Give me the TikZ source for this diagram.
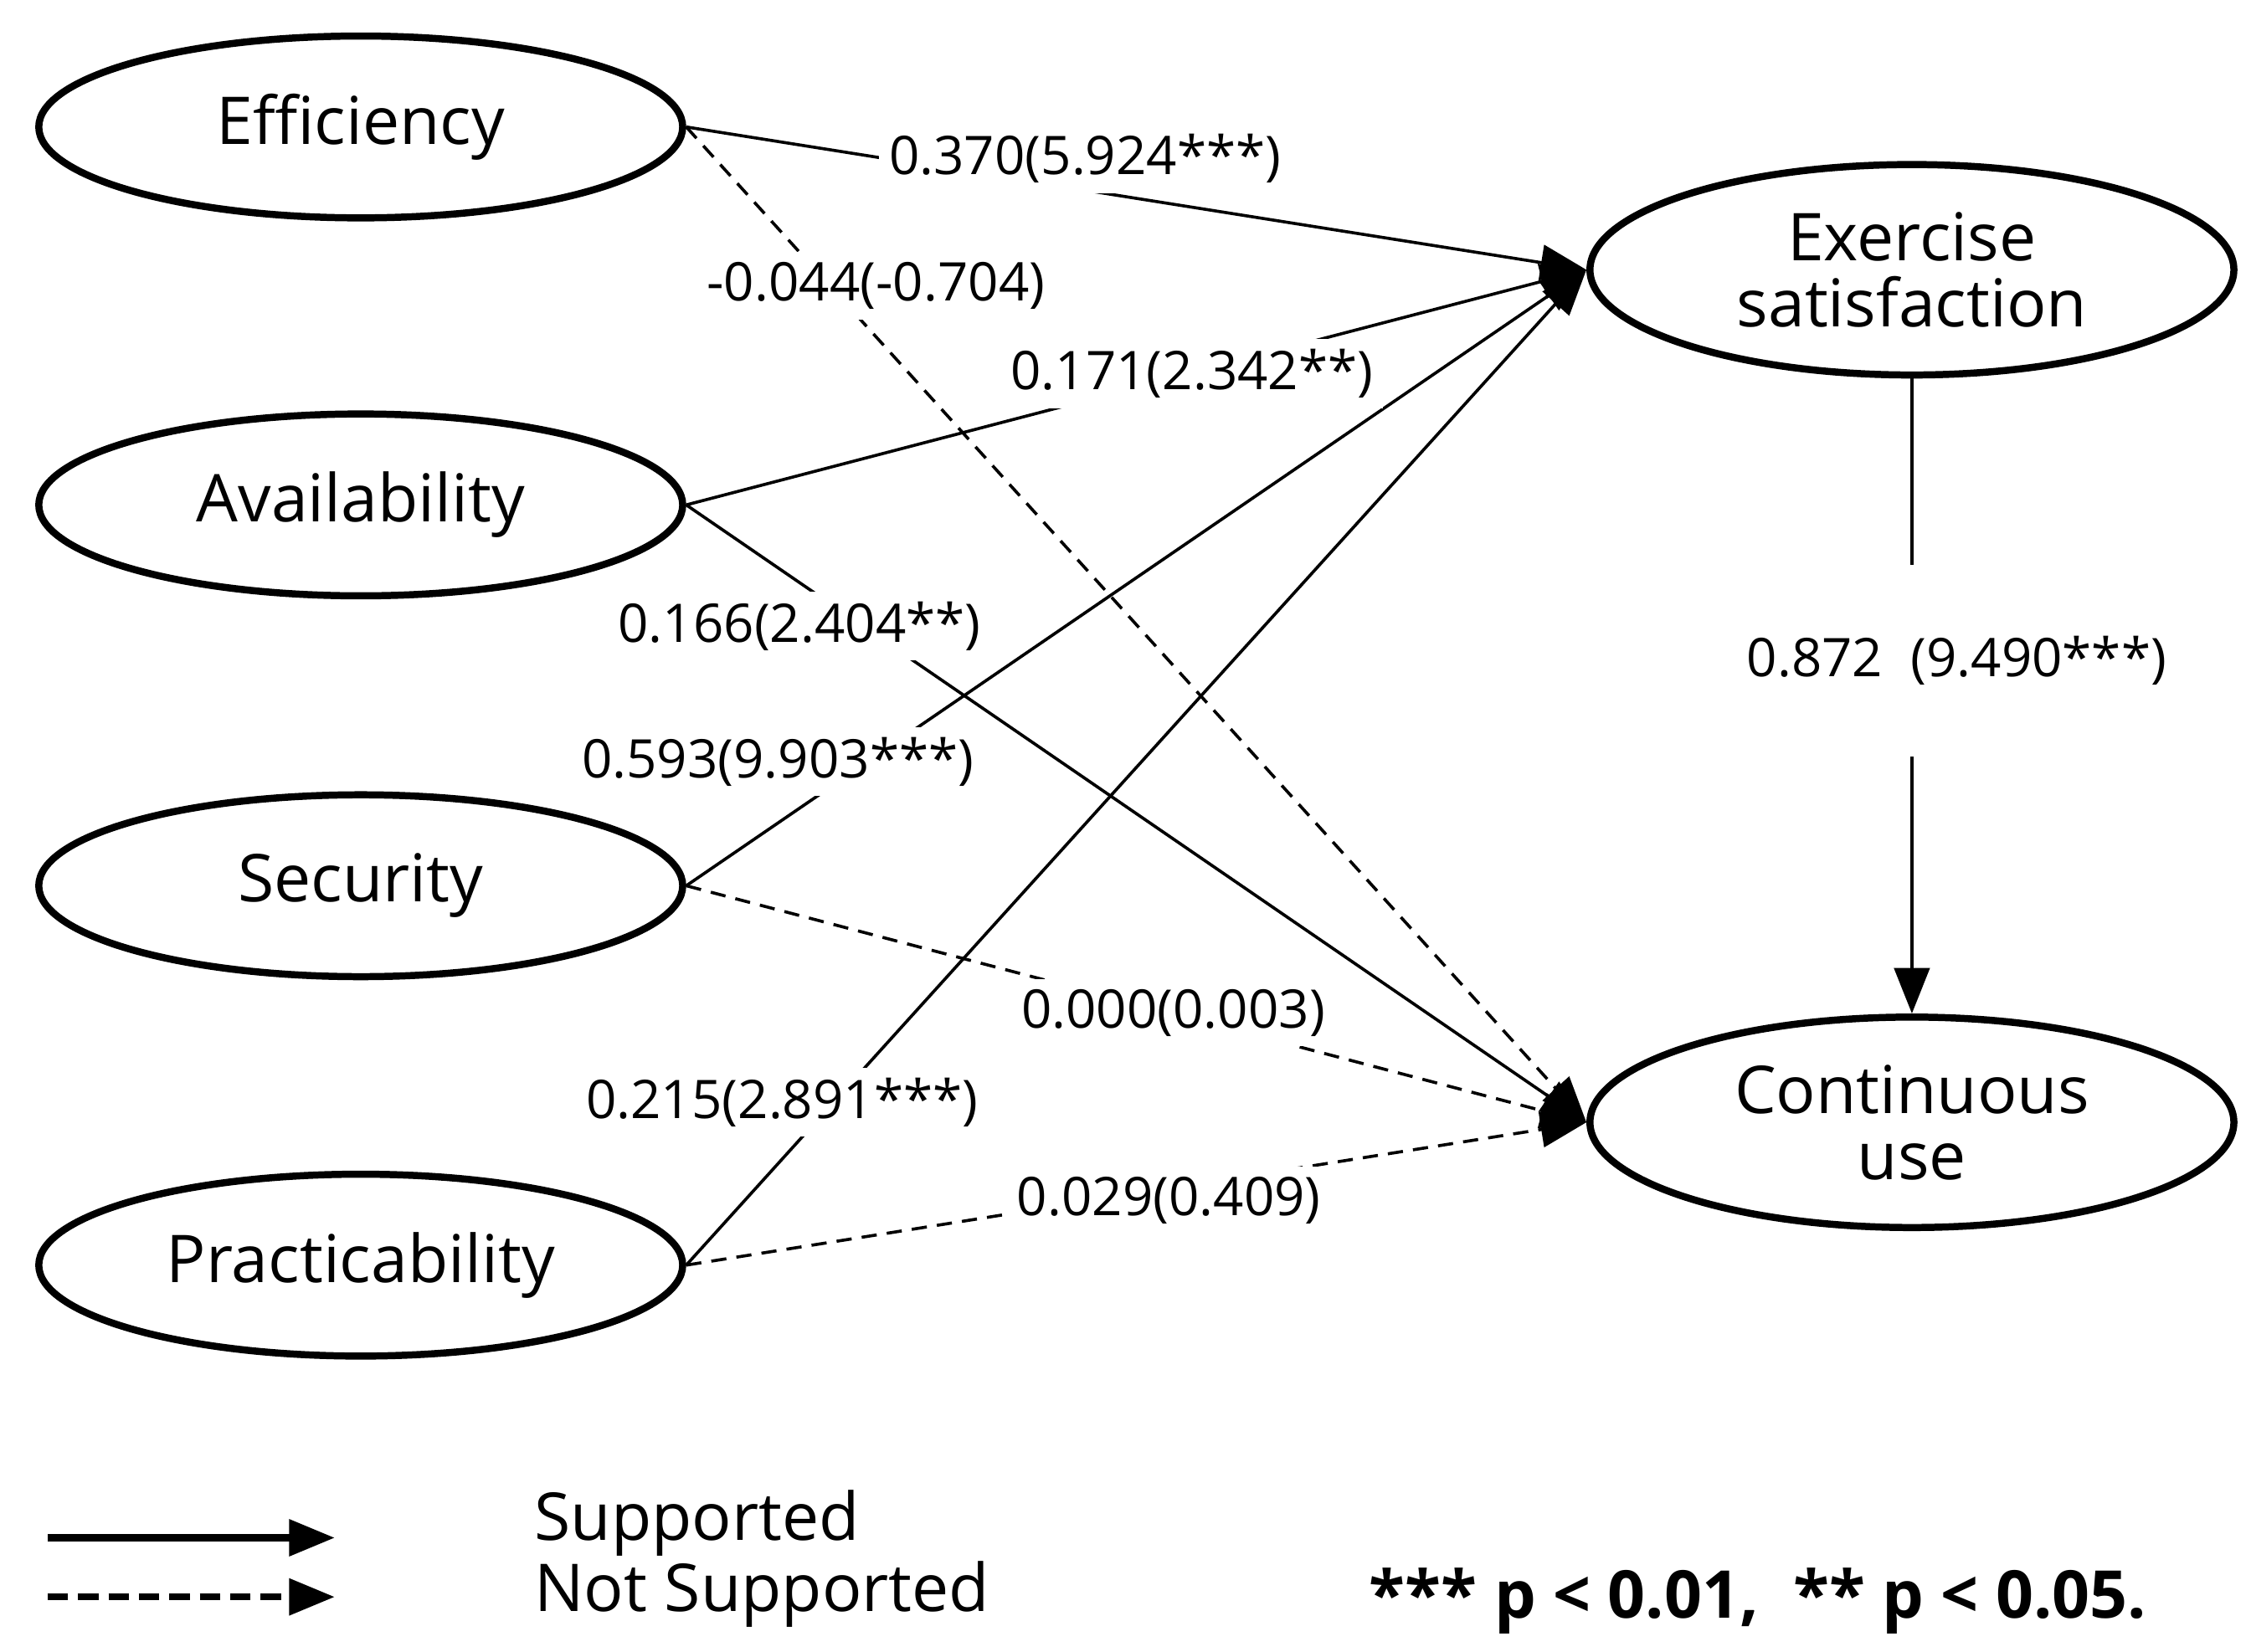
\documentclass[tikz,border=0pt]{standalone}
\usepackage{fontspec}
\setmainfont{Open Sans}
\usetikzlibrary{arrows.meta,shapes.geometric}
\begin{document}
\begin{tikzpicture}[x=0.01cm,y=-0.01cm,
  ell/.style={draw,line width=1.4pt,ellipse,minimum width=4.46cm,minimum height=1.26cm,font=\fontsize{13}{15}\selectfont,align=center},
  lab/.style={fill=white,inner sep=2pt,font=\fontsize{10.5}{12}\selectfont},
  sup/.style={line width=0.6pt,-{Triangle[length=9pt,width=7pt]}},
  nsup/.style={line width=0.6pt,dash pattern=on 3pt off 2pt,-{Triangle[length=9pt,width=7pt]}}]
\useasboundingbox (0,0) rectangle (1560,1145);
\node[ell] (ef) at (250,88) {Efficiency};
\node[ell] (av) at (250,350) {Availability};
\node[ell] (se) at (250,614) {Security};
\node[ell] (pr) at (250,877) {Practicability};
\node[ell] (es) at (1325,187) {Exercise\\[-2pt]satisfaction};
\node[ell] (cu) at (1325,778) {Continuous\\[-2pt]use};
\draw[sup] (ef.east) -- (es.west);
\draw[nsup] (ef.east) -- (cu.west);
\draw[sup] (av.east) -- (es.west);
\draw[sup] (av.east) -- (cu.west);
\draw[sup] (se.east) -- (es.west);
\draw[nsup] (se.east) -- (cu.west);
\draw[sup] (pr.east) -- (es.west);
\draw[nsup] (pr.east) -- (cu.west);
\draw[sup] (es.south) -- (cu.north);
\node[lab] (l1) at (752,110) {0.370(5.924***)};
\node[lab] (l2) at (607,198) {-0.044(-0.704)};
\node[lab] (l3) at (826,259) {0.171(2.342**)};
\node[lab] (l4) at (554,434) {0.166(2.404**)};
\node[lab] (l5) at (539,528) {0.593(9.903***)};
\node[lab] (l6) at (813,702) {0.000(0.003)};
\node[lab] (l7) at (542,764) {0.215(2.891***)};
\node[lab] (l8) at (810,832) {0.029(0.409)};
\node[lab,inner ysep=14pt] (l9) at (1356,458) {0.872~~(9.490***)};
\coordinate (a1) at (33,1066); \coordinate (a2) at (232,1066);
\coordinate (b1) at (33,1107); \coordinate (b2) at (232,1107);
\draw[line width=1.4pt,-{Triangle[length=9pt,width=7pt]}] (a1) -- (a2);
\draw[line width=1.4pt,dash pattern=on 4pt off 2pt,-{Triangle[length=9pt,width=7pt]}] (b1) -- (b2);
\node[anchor=west,font=\fontsize{13}{15}\selectfont] (t1) at (358,1056) {Supported};
\node[anchor=west,font=\fontsize{13}{15}\selectfont] (t2) at (358,1105) {Not Supported};
\node[anchor=east,font=\bfseries\fontsize{13}{15}\selectfont] (t3) at (1500,1110) {*** p < 0.01,~~** p < 0.05.};
\end{tikzpicture}
\end{document}
